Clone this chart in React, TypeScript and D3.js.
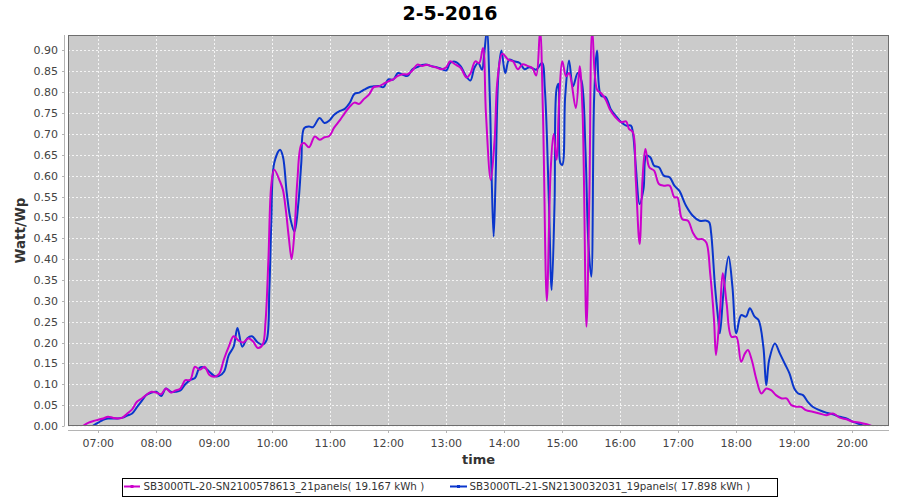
import React from "react";
import * as d3 from "d3";

const title = "2-5-2016";
const seriesNames = [
  "SB3000TL-20-SN2100578613_21panels( 19.167 kWh )",
  "SB3000TL-21-SN2130032031_19panels( 17.898 kWh )",
];
const seriesColors = ["#cc00cc", "#0a36cc"];

const yTicks = [0, 0.05, 0.1, 0.15, 0.2, 0.25, 0.3, 0.35, 0.4, 0.45, 0.5, 0.55, 0.6, 0.65, 0.7, 0.75, 0.8, 0.85, 0.9];
const xTickHours = [7, 8, 9, 10, 11, 12, 13, 14, 15, 16, 17, 18, 19, 20];

const magentaTimes = [
  "06:44","06:50","06:55","07:00","07:05","07:10","07:15","07:20","07:25","07:30","07:35","07:40","07:45","07:50","07:55",
  "08:00","08:05","08:10","08:15","08:20","08:25","08:30","08:35","08:40","08:45","08:50","08:55",
  "09:00","09:05","09:10","09:15","09:20","09:25","09:30","09:35","09:40","09:45","09:50","09:53","09:56","09:59",
  "10:02","10:08","10:11","10:14","10:17","10:20","10:23","10:26","10:30","10:33","10:38","10:44","10:49","10:54","10:59",
  "11:04","11:10","11:15","11:20","11:25","11:30","11:35","11:40","11:45","11:50","11:55",
  "12:00","12:05","12:10","12:15","12:20","12:25","12:30","12:35","12:40","12:45","12:50","12:55",
  "13:00","13:04","13:09","13:15","13:21","13:25","13:30","13:34","13:38","13:41","13:46","13:50","13:53","13:58",
  "14:04","14:09","14:14","14:19","14:24","14:29","14:33","14:37","14:40","14:44","14:48","14:51","14:54","14:57",
  "15:00","15:04","15:07","15:14","15:18","15:21","15:25","15:28","15:31","15:36","15:40","15:45","15:49","15:55",
  "16:01","16:06","16:09","16:13","16:16","16:20","16:23","16:26","16:30","16:35","16:40","16:45","16:51","16:56","16:59",
  "17:04","17:10","17:15","17:20","17:25","17:29","17:33","17:37","17:39","17:43","17:46","17:50","17:55",
  "18:00","18:05","18:09","18:12","18:16","18:21","18:26","18:31","18:36","18:41","18:47","18:52","18:57",
  "19:02","19:07","19:12","19:19","19:26","19:33","19:40","19:47","19:54",
  "20:01","20:08","20:15","20:20",
];
const magentaValues = [
  0.0,0.008,0.012,0.015,0.018,0.022,0.02,0.018,0.02,0.03,0.04,0.058,0.066,0.075,0.082,
  0.08,0.076,0.09,0.08,0.085,0.09,0.11,0.11,0.142,0.135,0.142,0.122,
  0.118,0.125,0.16,0.19,0.215,0.205,0.2,0.21,0.203,0.187,0.195,0.25,0.4,0.578,
  0.614,0.586,0.566,0.518,0.454,0.4,0.468,0.59,0.674,0.678,0.668,0.694,0.686,0.692,0.695,
  0.715,0.733,0.75,0.765,0.775,0.772,0.784,0.794,0.812,0.814,0.82,
  0.826,0.831,0.839,0.843,0.843,0.852,0.866,0.863,0.866,0.862,0.859,0.855,
  0.86,0.874,0.867,0.858,0.835,0.845,0.874,0.87,0.906,0.75,0.59,0.686,0.83,0.892,
  0.878,0.874,0.855,0.867,0.863,0.858,0.84,0.948,0.75,0.3,0.614,0.7,0.638,0.79,
  0.874,0.838,0.846,0.762,0.862,0.75,0.238,0.55,0.948,0.806,0.798,0.782,0.76,0.74,
  0.728,0.73,0.712,0.704,0.592,0.436,0.592,0.664,0.62,0.612,0.58,0.576,0.576,0.548,0.548,
  0.496,0.492,0.464,0.448,0.448,0.44,0.366,0.254,0.17,0.27,0.366,0.294,0.214,
  0.214,0.154,0.174,0.182,0.158,0.11,0.078,0.09,0.086,0.074,0.066,0.066,0.05,
  0.046,0.046,0.038,0.034,0.03,0.026,0.03,0.02,0.016,
  0.01,0.008,0.004,0.0,
];

const blueTimes = [
  "06:54","07:00","07:05","07:10","07:15","07:20","07:25","07:30","07:35","07:40","07:45","07:50","07:55",
  "08:00","08:05","08:10","08:15","08:20","08:25","08:30","08:35","08:40","08:45","08:50","08:55",
  "09:00","09:05","09:10","09:15","09:20","09:24","09:29","09:34","09:39","09:45","09:50","09:54","09:57","09:59",
  "10:02","10:08","10:11","10:15","10:19","10:23","10:27","10:30","10:33","10:38","10:42","10:49","10:54","10:59",
  "11:04","11:10","11:15","11:20","11:25","11:30","11:35","11:40","11:45","11:50","11:55",
  "12:00","12:05","12:10","12:15","12:20","12:25","12:30","12:35","12:40","12:45","12:50","12:55",
  "13:00","13:04","13:09","13:15","13:20","13:25","13:29","13:33","13:37","13:39","13:42","13:45","13:47","13:49","13:51","13:54","13:57",
  "14:01","14:05","14:10","14:16","14:21","14:26","14:33","14:39","14:42","14:46","14:49","14:52","14:54","14:56","14:58",
  "15:00","15:03","15:07","15:11","15:16","15:20","15:24","15:27","15:30","15:33","15:36","15:40","15:45","15:50","15:55",
  "16:01","16:06","16:11","16:13","16:16","16:20","16:24","16:27","16:31","16:35","16:40","16:45","16:51","16:56",
  "17:01","17:08","17:15","17:22","17:29","17:32","17:34","17:38","17:41","17:43","17:47","17:52","17:56",
  "18:00","18:05","18:10","18:14","18:19","18:23","18:28","18:31","18:34","18:40","18:45","18:50","18:55",
  "19:00","19:04","19:09","19:14","19:19","19:26","19:33","19:40","19:47","19:54",
  "20:01","20:08","20:13",
];
const blueValues = [
  0.0,0.008,0.015,0.018,0.018,0.018,0.02,0.025,0.03,0.045,0.06,0.075,0.08,
  0.082,0.072,0.09,0.082,0.082,0.085,0.1,0.11,0.115,0.14,0.14,0.13,
  0.12,0.12,0.13,0.17,0.19,0.235,0.19,0.21,0.215,0.2,0.195,0.205,0.33,0.486,
  0.63,0.662,0.646,0.558,0.494,0.466,0.534,0.63,0.714,0.718,0.716,0.738,0.726,0.732,
  0.746,0.755,0.76,0.774,0.796,0.799,0.806,0.812,0.814,0.815,0.812,
  0.831,0.83,0.846,0.842,0.839,0.855,0.86,0.865,0.866,0.862,0.86,0.856,
  0.852,0.87,0.873,0.862,0.84,0.828,0.858,0.87,0.854,0.886,0.948,0.79,0.59,0.454,0.59,0.846,0.9,
  0.846,0.878,0.874,0.87,0.855,0.86,0.854,0.87,0.806,0.55,0.326,0.534,0.806,0.82,0.63,
  0.626,0.79,0.876,0.814,0.846,0.826,0.66,0.438,0.358,0.79,0.9,0.792,0.788,0.76,0.744,
  0.728,0.72,0.72,0.704,0.624,0.532,0.568,0.648,0.644,0.624,0.62,0.6,0.596,0.576,
  0.564,0.528,0.504,0.492,0.492,0.488,0.462,0.334,0.262,0.222,0.326,0.406,0.334,
  0.222,0.266,0.262,0.282,0.262,0.254,0.19,0.098,0.158,0.198,0.174,0.15,0.126,
  0.09,0.078,0.074,0.058,0.046,0.038,0.032,0.028,0.022,0.018,
  0.01,0.004,0.0,
];

const toHours = (s: string) => {
  const [h, m] = s.split(":").map(Number);
  return h + m / 60;
};

const W = 900;
const H = 500;
const plotLeft = 68;
const plotRight = 889;
const plotTop = 35;
const plotBottom = 426;

const FONT = "'DejaVu Sans', sans-serif";

export default function App() {
  const x = d3.scaleLinear().domain([6.478, 20.633]).range([plotLeft, plotRight]);
  const y = d3.scaleLinear().domain([0, 0.9371]).range([plotBottom, plotTop]);

  const line = d3
    .line<[number, number]>()
    .x((d) => x(d[0]))
    .y((d) => y(d[1]))
    .curve(d3.curveCatmullRom.alpha(0.5));

  const magenta: [number, number][] = magentaTimes.map((t, i) => [toHours(t), magentaValues[i]]);
  const blue: [number, number][] = blueTimes.map((t, i) => [toHours(t), blueValues[i]]);

  const fmtHour = (h: number) => `${String(h).padStart(2, "0")}:00`;

  return (
    <svg
      width={W}
      height={H}
      style={{ position: "absolute", left: 0, top: 0, background: "#ffffff" }}
      fontFamily={FONT}
    >
      <defs>
        <clipPath id="plotClip">
          <rect x={plotLeft} y={plotTop} width={plotRight - plotLeft} height={plotBottom - plotTop} />
        </clipPath>
      </defs>
      <rect x={0} y={0} width={W} height={H} fill="#ffffff" />
      <text x={450} y={20} textAnchor="middle" fontSize={19} fontWeight="bold" fill="#000">
        {title}
      </text>

      {/* plot background */}
      <rect x={plotLeft} y={plotTop} width={plotRight - plotLeft} height={plotBottom - plotTop} fill="#cbcbcb" />

      {/* grid */}
      {yTicks.map((t) => (
        <line
          key={"gy" + t}
          x1={plotLeft}
          x2={plotRight}
          y1={Math.round(y(t)) + 0.5}
          y2={Math.round(y(t)) + 0.5}
          stroke="#f4f4f4"
          strokeWidth={1}
          strokeDasharray="2,2"
        />
      ))}
      {xTickHours.map((h) => (
        <line
          key={"gx" + h}
          x1={Math.round(x(h)) + 0.5}
          x2={Math.round(x(h)) + 0.5}
          y1={plotTop}
          y2={plotBottom}
          stroke="#f4f4f4"
          strokeWidth={1}
          strokeDasharray="2,2"
        />
      ))}

      {/* series */}
      <g clipPath="url(#plotClip)">
        <path d={line(blue) || ""} fill="none" stroke={seriesColors[1]} strokeWidth={2} strokeLinejoin="round" />
        <path d={line(magenta) || ""} fill="none" stroke={seriesColors[0]} strokeWidth={2} strokeLinejoin="round" />
      </g>

      {/* plot outline */}
      <rect
        x={plotLeft + 0.5}
        y={plotTop + 0.5}
        width={plotRight - plotLeft - 1}
        height={plotBottom - plotTop - 1}
        fill="none"
        stroke="#6e6e6e"
        strokeWidth={1}
      />

      {/* y axis */}
      <line x1={64.5} x2={64.5} y1={plotTop} y2={plotBottom} stroke="#b4b4b4" strokeWidth={1} />
      {yTicks.map((t) => (
        <g key={"ty" + t}>
          <line x1={62} x2={64.5} y1={Math.round(y(t)) + 0.5} y2={Math.round(y(t)) + 0.5} stroke="#b4b4b4" />
          <text x={58} y={y(t) + 4} textAnchor="end" fontSize={11} fill="#444">
            {t.toFixed(2)}
          </text>
        </g>
      ))}
      <text
        transform={`translate(24.5, ${(plotTop + plotBottom) / 2}) rotate(-90)`}
        textAnchor="middle"
        fontSize={13.5}
        fontWeight="bold"
        fill="#333"
      >
        Watt/Wp
      </text>

      {/* x axis */}
      <line x1={plotLeft} x2={plotRight} y1={430.5} y2={430.5} stroke="#b4b4b4" strokeWidth={1} />
      {xTickHours.map((h) => (
        <g key={"tx" + h}>
          <line x1={Math.round(x(h)) + 0.5} x2={Math.round(x(h)) + 0.5} y1={430.5} y2={433} stroke="#b4b4b4" />
          <text x={x(h)} y={446.5} textAnchor="middle" fontSize={11} fill="#444">
            {fmtHour(h)}
          </text>
        </g>
      ))}
      <text x={(plotLeft + plotRight) / 2} y={464} textAnchor="middle" fontSize={13} fontWeight="bold" fill="#333">
        time
      </text>

      {/* legend */}
      <rect x={122.5} y={478.5} width={655} height={18} fill="#ffffff" stroke="#000" strokeWidth={1} />
      <line x1={124} x2={140} y1={486.5} y2={486.5} stroke={seriesColors[0]} strokeWidth={2} />
      <rect x={130.5} y={485} width={3} height={3} fill={seriesColors[0]} />
      <text x={143.5} y={490} fontSize={10.3} fill="#333">
        {seriesNames[0]}
      </text>
      <line x1={450} x2={467} y1={486.5} y2={486.5} stroke={seriesColors[1]} strokeWidth={2} />
      <rect x={457} y={485} width={3} height={3} fill={seriesColors[1]} />
      <text x={469.5} y={490} fontSize={10.3} fill="#333">
        {seriesNames[1]}
      </text>
    </svg>
  );
}
